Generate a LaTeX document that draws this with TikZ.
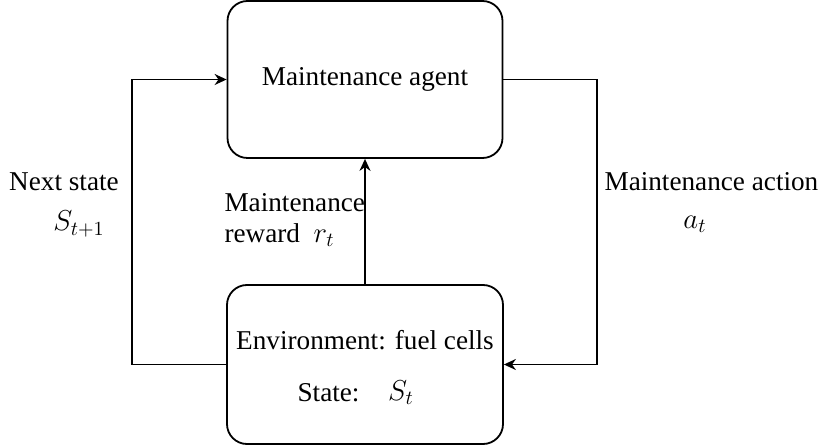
\documentclass[tikz,border=0pt]{standalone}
\usepackage{fontspec}
\setmainfont{Liberation Serif}
\newfontfamily\labelfont{Liberation Serif}
\usetikzlibrary{arrows.meta, positioning}

\begin{document}
\begin{tikzpicture}[
    x=0.5pt, y=-0.5pt,
    every path/.style = {line width=0.9pt},
    every node/.append style = {font=\labelfont\fontsize{13.6}{16}\selectfont},
    box/.style = {draw, rounded corners=10pt, line width=0.9pt, align=center},
    mathlbl/.style = {font=\fontsize{14.5}{17}\selectfont},
    >={Stealth[length=6pt,width=5.5pt]}
  ]
  \useasboundingbox (0,0) rectangle (819,448);

  % the two boxes
  \node[box, minimum width=137.5pt, minimum height=78.5pt] (agent) at (365,79.5) {};
  \node (agenttxt) at (365,79) {Maintenance agent};
  \node[box, minimum width=138pt, minimum height=79.5pt] (env) at (365,364.5) {};
  \node (envtxt) at (365,340) {Environment: fuel cells};
  \node[anchor=west] (statetxt) at (290,393) {State:};
  \node[mathlbl] (statesym) at (401,393) {$S_t$};

  % corners of the loop
  \coordinate (lcorner) at (132,364.5);
  \coordinate (rcorner) at (597,79.5);

  % connectors
  \draw[->] (env.west) -- (lcorner) |- (agent.west);
  \draw[->] (agent.east) -- (rcorner) |- (env.east);
  \draw[->] (env.north) -- (agent.south);

  % labels
  \node (nextlbl) at (64,182) {Next state};
  \node[mathlbl] (nextsym) at (79,224) {$S_{t+1}$};
  \node[anchor=west] (rewlbl) at (217,203) {Maintenance};
  \node[anchor=west] (rewlbl2) at (217,235) {reward~~{\fontsize{14.5}{17}\selectfont$r_t$}};
  \node[anchor=west] (actlbl) at (597,182) {Maintenance action};
  \node[mathlbl] (actsym) at (695,224) {$a_t$};
\end{tikzpicture}
\end{document}
